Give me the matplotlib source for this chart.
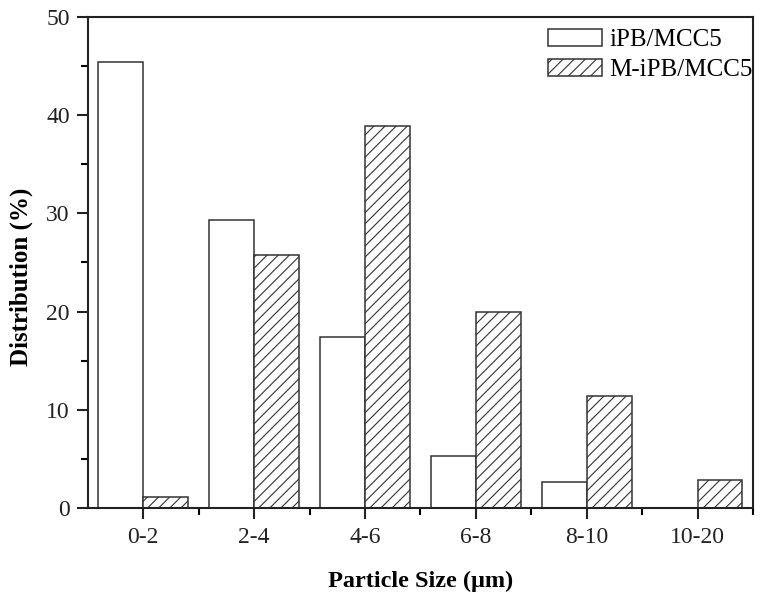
import matplotlib
matplotlib.use("Agg")
import matplotlib.pyplot as plt
import numpy as np
from matplotlib.ticker import MultipleLocator

plt.rcParams['font.family'] = ['Liberation Serif', 'DejaVu Serif']
plt.rcParams['hatch.linewidth'] = 0.8
plt.rcParams['hatch.color'] = '#555555'

categories = ['0-2', '2-4', '4-6', '6-8', '8-10', '10-20']
ipb = [45.4, 29.3, 17.4, 5.3, 2.65, 0.0]
mipb = [1.1, 25.8, 38.9, 20.0, 11.4, 2.85]
series_names = ['iPB/MCC5', 'M-iPB/MCC5']

fig = plt.figure(figsize=(7.64, 6.03), dpi=100)
ax = fig.add_axes([0.115, 0.1576, 0.8706, 0.8142])

x = np.arange(len(categories))
w = 0.405
ax.bar(x - w/2, ipb, w, facecolor='white', edgecolor='#333333', linewidth=1.1, label=series_names[0])
ax.bar(x + w/2, mipb, w, facecolor='white', edgecolor='#333333', linewidth=1.1, hatch='///', label=series_names[1])

ax.set_xlim(-0.5, 5.5)
ax.set_ylim(0, 50)
ax.set_xticks(x)
ax.set_xticklabels(categories)
ax.set_xticks(x + 0.5, minor=True)
ax.yaxis.set_major_locator(MultipleLocator(10))
ax.yaxis.set_minor_locator(MultipleLocator(5))
ax.tick_params(axis='both', which='major', direction='out', length=8, width=1.5, labelsize=17, colors='#222222')
ax.tick_params(axis='both', which='minor', direction='out', length=5, width=1.5)
ax.tick_params(axis='x', which='major', pad=6)
ax.tick_params(axis='y', which='major', pad=5)
for s in ax.spines.values():
    s.set_linewidth(1.5)
    s.set_color('#222222')

ax.set_xlabel('Particle Size (μm)', fontsize=17.5, fontweight='bold')
ax.set_ylabel('Distribution (%)', fontsize=18, fontweight='bold')
ax.xaxis.set_label_coords(0.5, -0.128)
ax.yaxis.set_label_coords(-0.083, 0.47)

leg = ax.legend(loc='upper right', frameon=False, fontsize=18, handlelength=2.15, handleheight=0.68,
                handletextpad=0.3, labelspacing=0.3, borderaxespad=0.0, borderpad=0.0,
                bbox_to_anchor=(1.0, 0.976))

fig.savefig('out.png', dpi=100)
